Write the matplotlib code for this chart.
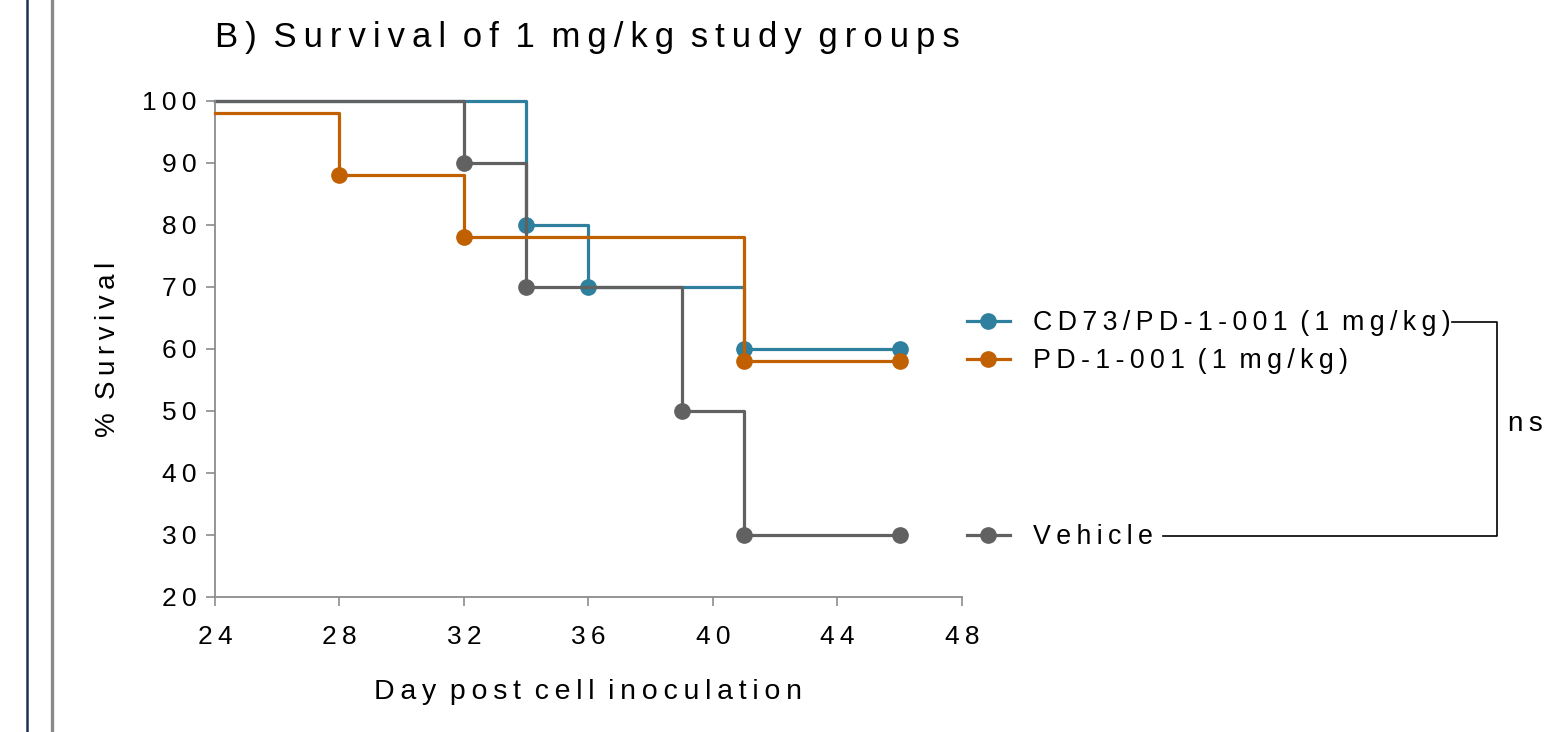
import matplotlib
matplotlib.use("Agg")
import matplotlib.pyplot as plt
from matplotlib.lines import Line2D

plt.rcParams['font.family'] = ['Liberation Sans', 'DejaVu Sans']

# data
cd73_days = [24, 34, 36, 41, 46]
cd73_surv = [100, 80, 70, 60, 60]
pd1_days = [24, 28, 32, 41, 46]
pd1_surv = [98, 88, 78, 58, 58]
veh_days = [24, 32, 34, 39, 41, 46]
veh_surv = [100, 90, 70, 50, 30, 30]

labels = ['CD73/PD-1-001 (1 mg/kg)', 'PD-1-001 (1 mg/kg)', 'Vehicle']
colors = ['#2E809E', '#C06000', '#616161']

xticks = [24, 28, 32, 36, 40, 44, 48]
yticks = [20, 30, 40, 50, 60, 70, 80, 90, 100]


def spaced(s):
    # wide letter spacing like the original
    return '\u2009'.join(s).replace('\u2009 \u2009', ' \u2009')


W, H = 1568, 732
fig = plt.figure(figsize=(W / 100, H / 100), dpi=100)
ax = fig.add_axes([215 / W, 1 - 597 / H, (962 - 215) / W, (597 - 101) / H])

lw = 2.3
ms = 11
series = [(cd73_days, cd73_surv, colors[0], 1),
          (veh_days, veh_surv, colors[2], 2),
          (pd1_days, pd1_surv, colors[1], 3)]
for d, s, c, z in series:
    ax.step(d, s, where='post', color=c, lw=lw, zorder=z, clip_on=False)
    ax.plot(d[1:], s[1:], 'o', color=c, ms=ms, zorder=z + 0.5, clip_on=False)

ax.set_xlim(24, 48)
ax.set_ylim(20, 100)
ax.set_xticks(xticks, labels=[spaced(str(t)) for t in xticks])
ax.set_yticks(yticks, labels=[spaced(str(t)) for t in yticks])

for side in ['top', 'right']:
    ax.spines[side].set_visible(False)
for side in ['left', 'bottom']:
    ax.spines[side].set_color('#8c8c8c')
    ax.spines[side].set_linewidth(1.3)
ax.tick_params(axis='both', direction='out', length=6.5, width=1.2,
               color='#8c8c8c', labelsize=19, labelcolor='black')
ax.tick_params(axis='y', pad=7)
ax.tick_params(axis='x', pad=14)

ax.set_ylabel(spaced('% Survival'), fontsize=20)
ax.yaxis.set_label_coords(-0.126, 0.5)
ax.set_xlabel(spaced('Day post cell inoculation'), fontsize=20.5)
ax.xaxis.set_label_coords(0.5, -0.165)

fig.text(215 / W, 1 - 47 / H, spaced('B) Survival of 1 mg/kg study groups'),
         fontsize=25, va='baseline', ha='left')

# legend
def handle(c):
    return Line2D([], [], color=c, lw=lw, marker='o', ms=ms)

leg1 = fig.legend([handle(colors[0]), handle(colors[1])],
                  [spaced(labels[0]), spaced(labels[1])],
                  loc='center left', bbox_to_anchor=(967 / W, 1 - 342 / H),
                  frameon=False, fontsize=19.3, handlelength=1.6,
                  handletextpad=0.85, labelspacing=0.45, borderpad=0,
                  borderaxespad=0)
leg2 = fig.legend([handle(colors[2])], [spaced(labels[2])],
                  loc='center left', bbox_to_anchor=(967 / W, 1 - 537 / H),
                  frameon=False, fontsize=19.3, handlelength=1.6,
                  handletextpad=0.85, borderpad=0, borderaxespad=0)

# significance bracket
bx = [1452 / W, 1497 / W, 1497 / W, 1163 / W]
by = [1 - 322 / H, 1 - 322 / H, 1 - 536 / H, 1 - 536 / H]
fig.add_artist(Line2D(bx, by, color='black', lw=1.2))
fig.text(1508 / W, 1 - 424 / H, spaced('ns'), fontsize=20, va='center', ha='left')

# page-edge rules at the left
fig.add_artist(Line2D([27 / W, 27 / W], [0, 1], color='#1F3055', lw=1.8))
fig.add_artist(Line2D([52 / W, 52 / W], [0, 1], color='#8a8a8a', lw=2.4))

fig.savefig('out.png', dpi=100)
